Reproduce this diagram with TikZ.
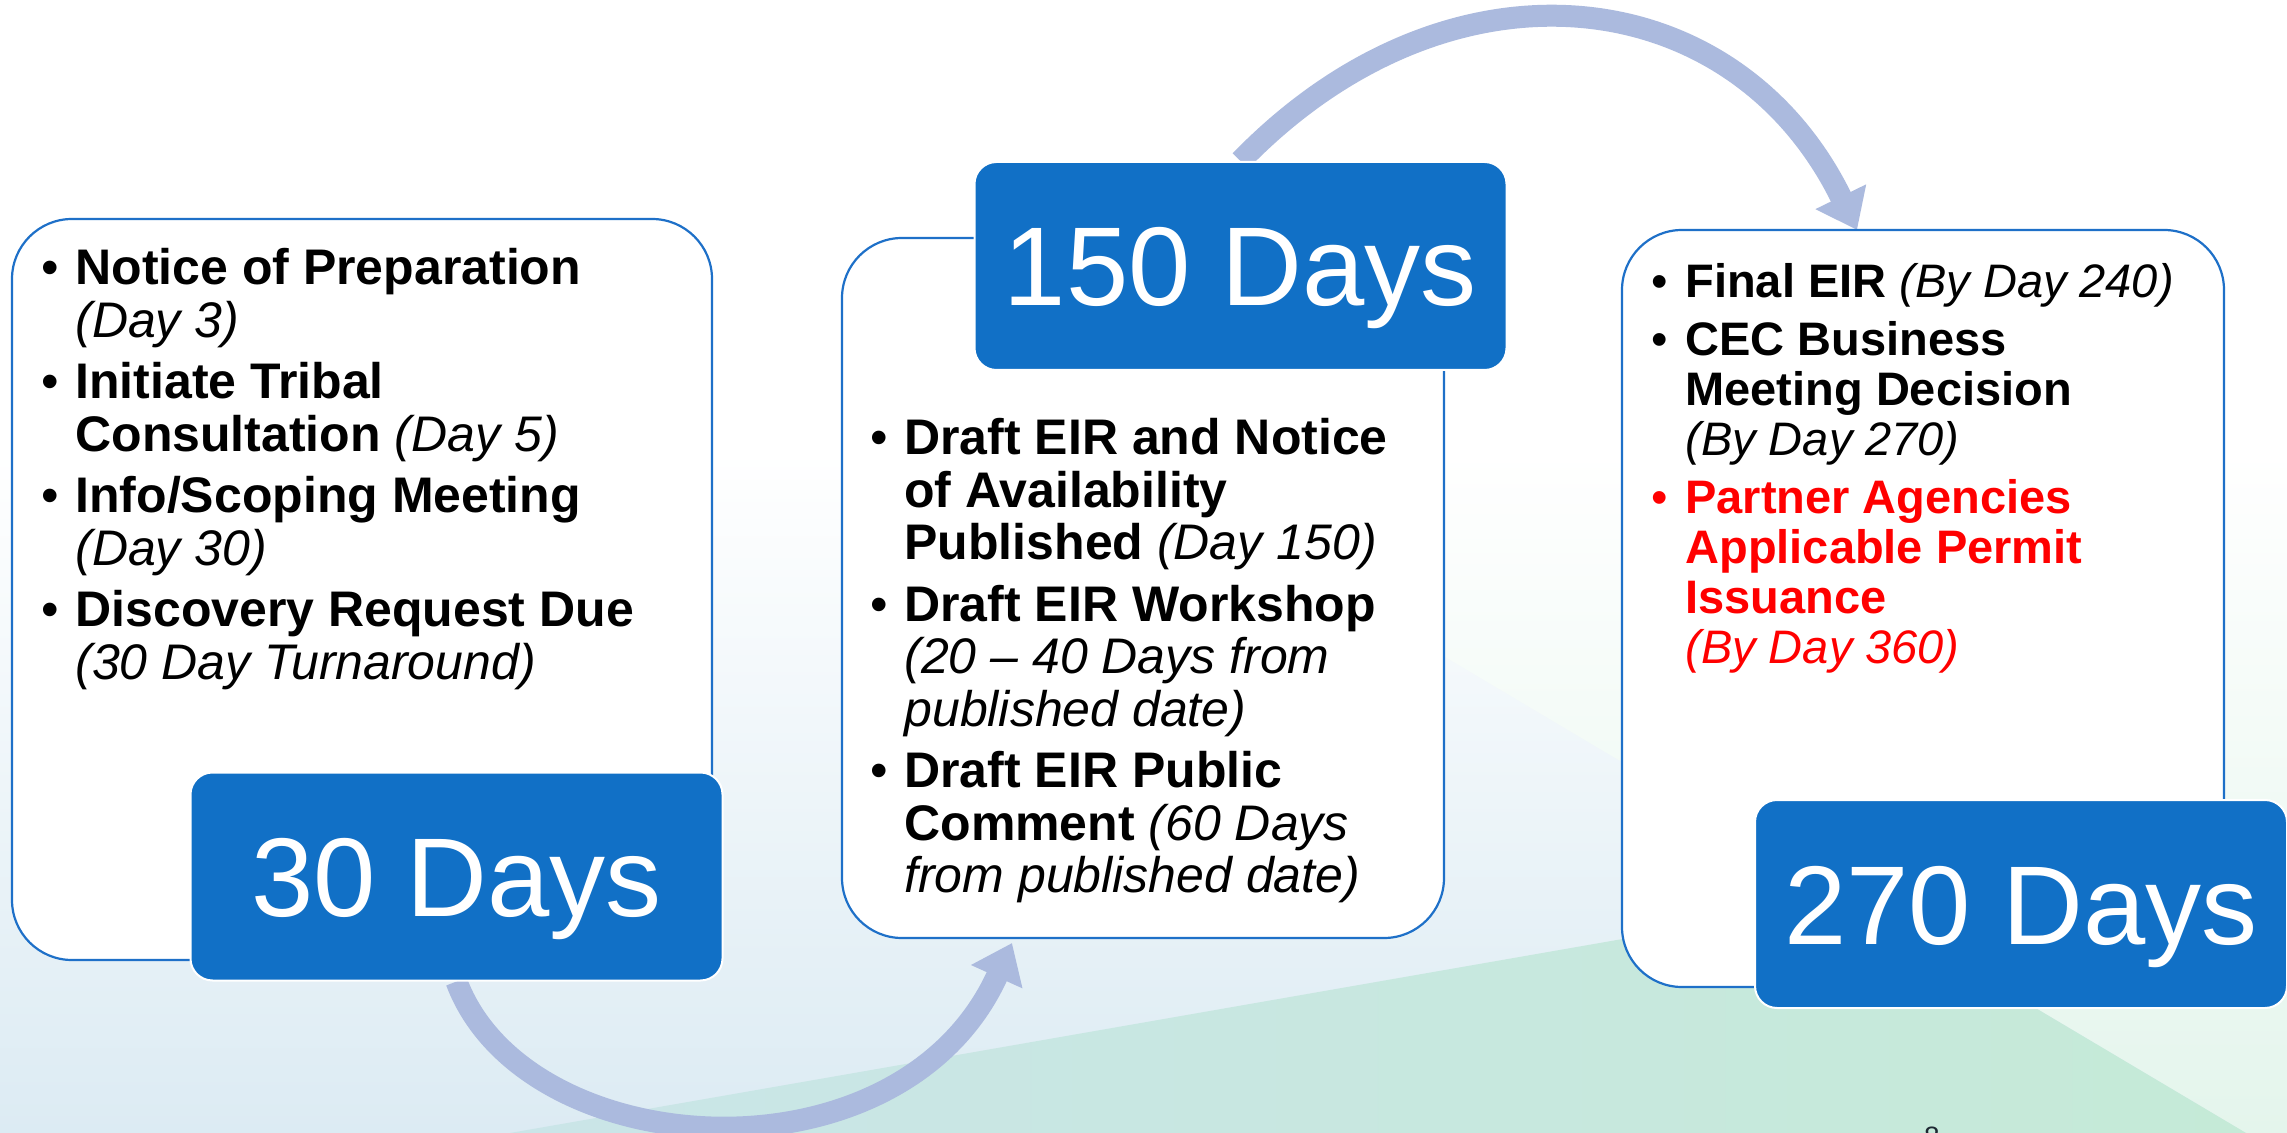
\documentclass[tikz,border=0pt]{standalone}
\usepackage{fontspec}
\setmainfont{Liberation Sans}
\usetikzlibrary{arrows.meta}
\pgfdeclarelayer{bglayer}
\pgfdeclarelayer{arrowlayer}
\pgfsetlayers{bglayer,arrowlayer,main}
\definecolor{boxblue}{RGB}{17,112,198}
\definecolor{edgeblue}{RGB}{30,112,200}
\definecolor{arrowc}{RGB}{171,186,222}
\definecolor{bgblue}{RGB}{220,235,243}
\definecolor{bggreen}{RGB}{228,245,236}
\definecolor{tealA}{RGB}{202,229,232}
\definecolor{greenA}{RGB}{197,234,215}
\definecolor{pagenum}{RGB}{30,40,50}
\definecolor{alertred}{RGB}{255,0,0}
\newcommand\bul{\makebox[17pt][l]{•}}
\tikzset{
  listtext/.style={anchor=base west, inner sep=0pt, align=left},
  daybox/.style={fill=boxblue, draw=white, line width=1pt, rounded corners=11pt,
    minimum width=266pt, minimum height=104pt, text=white,
    font=\fontsize{56}{60}\selectfont, text height=40pt, text depth=0pt, inner sep=0pt},
  panel/.style={fill=white, draw=edgeblue, line width=1.1pt, rounded corners=30pt, inner sep=0pt},
  flow/.style={draw=arrowc, line width=11pt, -{Triangle[length=18.5pt 0 0, width=27pt 0 0]}},
}
\begin{document}
\begin{tikzpicture}[x=0.5pt,y=-0.5pt]
\useasboundingbox (0,0) rectangle (2287,1133);
% background
\begin{pgfonlayer}{bglayer}
\fill[white] (0,0) rectangle (2287,1133);
\shade[top color=white, bottom color=bgblue] (0,450) rectangle (2287,1133);
\shade[top color=white, bottom color=bggreen] (1097,450) -- (2287,450) -- (2287,1133) -- (2246,1133) -- cycle;
\shade[left color=tealA, right color=greenA] (510,1133) -- (1852,899) -- (2246,1133) -- cycle;
\end{pgfonlayer}
% panels and day boxes
\node[panel, minimum width=350pt, minimum height=370.5pt] (b1) at (362,589.5) {};
\node[panel, minimum width=301pt, minimum height=350pt] (b2) at (1143,588) {};
\node[panel, minimum width=301pt, minimum height=378.5pt] (b3) at (1923,608.5) {};
\node[daybox] (d30) at (456.5,876.5) {30 Days};
\node[daybox] (d150) at (1240.5,266) {150 Days};
\node[daybox] (d270) at (2021,904) {270 Days};
% connectors, drawn behind the boxes
\coordinate (tipA) at (1012,943);
\coordinate (tipB) at (1857,230);
\begin{pgfonlayer}{arrowlayer}
\draw[flow] (d30.south) .. controls (525,1165) and (900,1190) .. (tipA);
\draw[flow] (d150.north) .. controls (1450,-55) and (1735,-20) .. (tipB);
\end{pgfonlayer}
% list texts
\node[listtext, font=\fontsize{25}{26.25}\selectfont] (t1) at (41,285) {%
\begin{tabular}[t]{@{}l@{}l@{}}
\bul & \textbf{Notice of Preparation}\\
 & \textit{(Day 3)}\\[4.5pt]
\bul & \textbf{Initiate Tribal}\\
 & \textbf{Consultation} \textit{(Day 5)}\\[4.5pt]
\bul & \textbf{Info/Scoping Meeting}\\
 & \textit{(Day 30)}\\[4.5pt]
\bul & \textbf{Discovery Request Due}\\
 & \textit{(30 Day Turnaround)}
\end{tabular}};
\node[listtext, font=\fontsize{25}{26.25}\selectfont] (t2) at (870,455) {%
\begin{tabular}[t]{@{}l@{}l@{}}
\bul & \textbf{Draft EIR and Notice}\\
 & \textbf{of Availability}\\
 & \textbf{Published} \textit{(Day 150)}\\[4.5pt]
\bul & \textbf{Draft EIR Workshop}\\
 & \textit{(20 – 40 Days from}\\
 & \textit{published date)}\\[4.5pt]
\bul & \textbf{Draft EIR Public}\\
 & \textbf{Comment} \textit{(60 Days}\\
 & \textit{from published date)}
\end{tabular}};
\node[listtext, font=\fontsize{23.5}{25}\selectfont] (t3) at (1651,298) {%
\begin{tabular}[t]{@{}l@{}l@{}}
\bul & \textbf{Final EIR} \textit{(By Day 240)}\\[4pt]
\bul & \textbf{CEC Business}\\
 & \textbf{Meeting Decision}\\
 & \textit{(By Day 270)}\\[4pt]
\color{alertred}\bul & \color{alertred}\textbf{Partner Agencies}\\
 & \color{alertred}\textbf{Applicable Permit}\\
 & \color{alertred}\textbf{Issuance}\\
 & \color{alertred}\textit{(By Day 360)}
\end{tabular}};
\node[anchor=north, inner sep=0pt, text=pagenum, font=\fontsize{14}{16}\selectfont] (pg) at (1932,1127) {8};
\end{tikzpicture}
\end{document}
